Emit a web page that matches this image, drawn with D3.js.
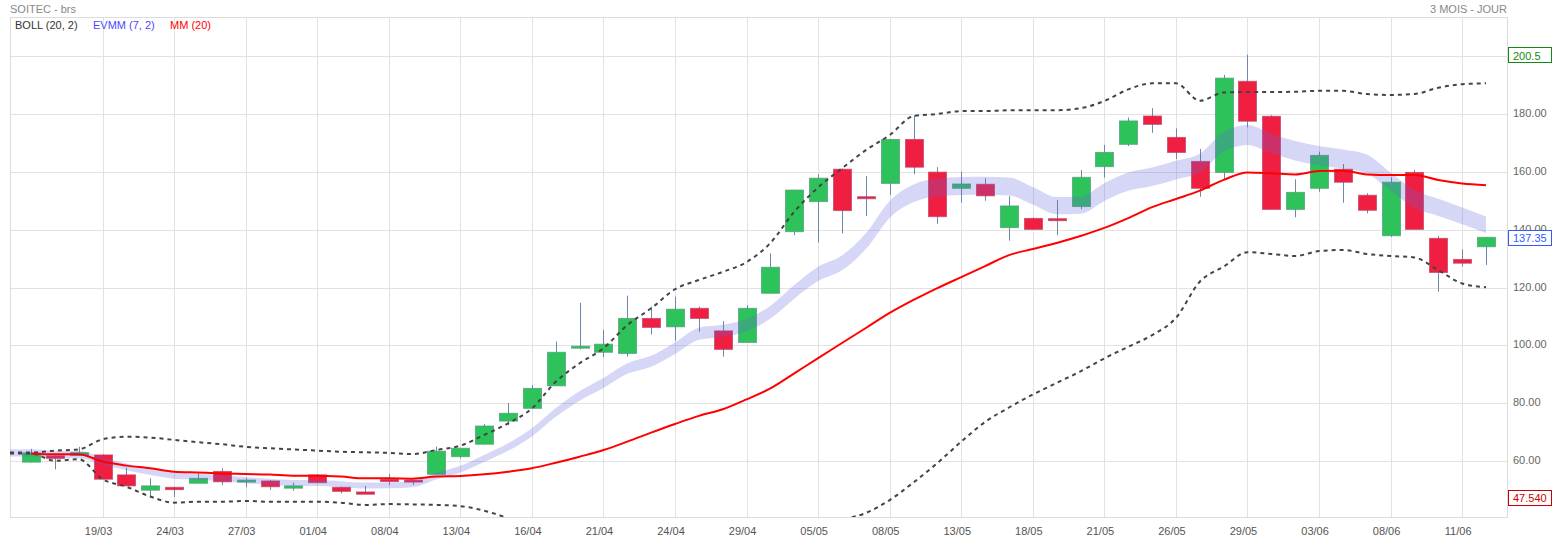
<!DOCTYPE html>
<html><head><meta charset="utf-8">
<script src="https://cdn.jsdelivr.net/npm/d3@7"></script>
<style>
body{margin:0;background:#fff;}
text{font-family:"Liberation Sans",Arial,sans-serif;font-size:11px;}
</style>
</head><body>
<svg id="c" width="1553" height="541"></svg>
<script>
// ---- data ----
const tickLabels = ["19/03","24/03","27/03","01/04","08/04","13/04","16/04","21/04","24/04","29/04",
  "05/05","08/05","13/05","18/05","21/05","26/05","29/05","03/06","08/06","11/06"];
const tickFirst = 3, tickEvery = 3;

const open = [59.6,61.8,61.9,62.1,55.2,49.9,50.9,52.3,56.4,52.9, 53.1,50.6,55.2,50.9,49.3,53.6,53.4,55.4,61.5,65.8,
  73.8,78.2,86.0,99.3,97.6,97.2,109.3,106.4,112.8,105.0, 101.0,118.0,139.3,149.7,160.9,151.4,156.0,171.2,159.9,154.3,
  155.7,140.7,143.9,143.8,148.0,161.8,169.5,179.3,171.9,163.6, 159.8,191.3,179.2,147.0,154.3,160.9,151.9,137.9,159.8,137.0,
  129.7,134.1];
const high = [64.2,61.9,64.9,62.3,57.7,54.0,51.0,56.1,57.5,54.0, 53.4,52.5,55.5,51.1,51.4,55.5,53.5,65.0,64.6,72.8,
  80.0,86.3,101.3,114.7,105.3,117.2,113.4,116.8,113.4,108.4, 113.9,131.8,153.7,159.2,161.2,158.5,171.2,179.6,161.6,160.0,
  157.8,151.6,144.2,150.2,160.6,169.3,178.8,182.0,175.0,167.9, 193.5,200.5,179.6,157.4,167.0,162.7,152.6,158.1,160.6,137.8,
  133.2,137.4];
const low = [59.5,57.1,61.9,53.7,51.4,47.8,47.54,52.3,51.7,50.9, 50.0,49.7,52.3,48.8,48.5,51.7,51.7,55.4,60.9,65.8,
  72.4,78.2,86.0,98.6,95.9,96.1,103.8,101.6,104.7,96.1, 101.0,118.0,138.1,135.5,138.7,144.7,152.0,159.2,142.0,149.3,
  150.0,136.2,140.0,138.1,147.1,158.0,168.9,173.5,164.4,151.4, 157.2,175.4,147.0,144.3,153.1,149.3,145.6,137.5,140.1,118.5,
  127.2,127.8];
const close = [62.8,60.9,62.9,53.7,51.4,51.4,50.1,54.0,52.8,53.4, 51.1,51.4,52.5,49.5,48.5,53.2,52.9,63.4,64.4,72.1,
  76.5,85.1,97.6,99.7,100.4,109.3,106.2,112.5,109.3,98.6, 112.8,127.0,153.7,157.8,146.6,150.7,171.2,161.6,144.5,155.8,
  151.7,148.2,140.1,143.3,158.1,166.7,177.6,176.4,166.7,154.3, 192.4,177.5,147.0,152.9,165.7,156.4,146.7,156.4,140.1,125.2,
  128.4,137.35];

const mm20 = [62.6,62.3,62.3,59.8,58.4,57.5,56.3,56.0,55.7,55.5, 55.3,54.9,54.9,54.6,54.0,54.0,53.9,54.6,54.8,55.4,
  56.3,57.5,59.4,61.5,63.8,66.7,69.8,72.8,75.6,77.9, 81.3,85.1,90.3,95.6,100.8,106.0,111.2,115.7,119.8,123.6,
  127.4,131.2,133.3,135.4,137.8,140.6,144.0,147.8,150.6,153.5, 157.2,159.8,159.5,159.1,160.3,160.4,159.1,158.9,158.9,157.2,
  156.0,155.4];
const bollUp = [62.9,63.6,64.0,67.5,68.4,68.1,67.3,66.5,65.8,64.9, 64.4,64.0,63.6,63.2,63.0,62.8,62.4,63.8,65.3,69.0,
  73.0,78.2,87.4,93.8,99.0,107.0,112.8,119.4,122.6,125.4, 128.8,135.4,146.2,154.6,161.2,167.5,172.7,179.3,180.0,181.0,
  181.0,181.3,181.3,181.3,182.0,184.5,188.5,190.6,190.6,184.6, 187.4,187.6,187.6,187.7,188.0,188.0,186.9,186.6,186.9,189.1,
  190.3,190.6];
const bollLow = [62.6,60.1,60.6,53.7,51.1,47.7,45.6,45.9,45.9,46.2, 45.9,45.9,45.9,45.6,44.8,45.1,45.0,44.8,44.4,42.8,
  40.2,36.8,31.4,29.2,28.6,26.4,26.8,26.2,28.6,30.4, 33.8,34.8,34.4,36.6,39.6,42.0,46.5,52.6,59.3,66.7,
  73.5,78.5,83.0,87.0,91.0,95.5,99.5,103.5,109.5,122.0, 127.2,132.2,131.6,130.9,132.6,133.0,131.6,130.9,130.4,126.0,
  121.4,120.1];
const evmm = [62.8,62.3,62.2,60.0,58.0,56.3,55.0,54.6,54.0,53.4, 52.8,52.4,52.4,52.0,51.5,51.6,52.0,54.8,57.2,60.9,
  64.8,69.9,76.8,82.5,87.0,92.0,94.5,99.0,104.0,105.0, 107.0,111.5,118.5,124.7,128.5,136.0,147.0,152.6,154.6,155.1,
  155.2,154.9,151.7,148.3,148.5,153.0,156.6,158.3,160.6,163.0, 170.4,172.7,169.8,167.3,165.6,164.4,162.7,156.6,150.6,147.7,
  144.8,141.7];
const evmmPct = 2;

const yTicks = [60,80,100,120,140,160,180,200];
const yTickLabels = [60,80,100,120,140,160,180];   // 200.00 is hidden behind the 200.5 box
const lastClose = 137.35, periodHigh = 200.5, periodLow = 47.54;
const title = "SOITEC - brs", period = "3 MOIS - JOUR";
const legend = [{t:"BOLL (20, 2)", c:"#333333"},{t:"EVMM (7, 2)", c:"#4a4aff"},{t:"MM (20)", c:"#ff0000"}];

// ---- layout ----
const X0 = 10, X1 = 1507, Y0 = 17, Y1 = 517;
const n = open.length;
const svg = d3.select("#c");
const x = d3.scaleLinear().domain([-0.88, n - 1 + 0.88]).range([X0, X1]);
const y = d3.scaleLinear().domain([60, 180]).range([461, 114]);

svg.append("defs").append("clipPath").attr("id","clip")
  .append("rect").attr("x",X0).attr("y",Y0).attr("width",X1-X0).attr("height",Y1-Y0);

// gridlines
const grid = svg.append("g");
grid.selectAll("line.h").data(yTicks).join("line")
  .attr("x1",X0).attr("x2",X1).attr("y1",d=>Math.round(y(d))+0.5).attr("y2",d=>Math.round(y(d))+0.5)
  .attr("stroke","#e2e2e2");
const tickIdx = tickLabels.map((_,k)=>tickFirst + k*tickEvery);
grid.selectAll("line.v").data(tickIdx).join("line")
  .attr("x1",d=>Math.round(x(d))+0.5).attr("x2",d=>Math.round(x(d))+0.5).attr("y1",Y0).attr("y2",Y1)
  .attr("stroke","#e2e2e2");
svg.append("rect").attr("x",X0+0.5).attr("y",Y0+0.5).attr("width",X1-X0).attr("height",Y1-Y0)
  .attr("fill","none").attr("stroke","#dcdcdc");

const plot = svg.append("g").attr("clip-path","url(#clip)");

// candles
const idx = d3.range(n);
const bw = 18;
plot.append("g").selectAll("line").data(idx).join("line")
  .attr("x1",i=>Math.round(x(i))+0.5).attr("x2",i=>Math.round(x(i))+0.5)
  .attr("y1",i=>y(high[i])).attr("y2",i=>y(low[i]))
  .attr("stroke","#6d88aa").attr("stroke-width",1);
plot.append("g").selectAll("rect").data(idx).join("rect")
  .attr("x",i=>Math.round(x(i))-bw/2+0.5)
  .attr("width",bw)
  .attr("y",i=>Math.min(y(open[i]),y(close[i])))
  .attr("height",i=>Math.max(2,Math.abs(y(open[i])-y(close[i]))))
  .attr("fill",i=>close[i]>=open[i]?"#2ec35a":"#f01f41")
  .attr("stroke",i=>close[i]>=open[i]?"#4d9a7a":"#b84466")
  .attr("stroke-opacity",0.7).attr("stroke-width",1);

// EVMM band
const withLead = arr => [{i:x.domain()[0], v:arr[0]}].concat(arr.map((v,i)=>({i,v})));
const band = d3.area().x(d=>x(d.i))
  .y0(d=>y(d.v*(1-evmmPct/100))).y1(d=>y(d.v*(1+evmmPct/100)))
  .curve(d3.curveMonotoneX);
plot.append("path").datum(withLead(evmm)).attr("d",band)
  .attr("fill","#6262dc").attr("fill-opacity",0.26);

// Bollinger
const ln = d3.line().x(d=>x(d.i)).y(d=>y(d.v)).curve(d3.curveMonotoneX);
[bollUp,bollLow].forEach(arr=>{
  plot.append("path").datum(withLead(arr)).attr("d",ln)
    .attr("fill","none").attr("stroke","#444").attr("stroke-width",2).attr("stroke-dasharray","4,4");
});
// MM 20
plot.append("path").datum(mm20.map((v,i)=>({i,v}))).attr("d",ln)
  .attr("fill","none").attr("stroke","#ff0000").attr("stroke-width",2);

// titles / legend
svg.append("text").attr("x",10).attr("y",13).attr("fill","#888").text(title);
svg.append("text").attr("x",1507).attr("y",13).attr("text-anchor","end").attr("fill","#888").text(period);
const lx = [15, 93, 170];
legend.forEach((l,k)=>svg.append("text").attr("x",lx[k]).attr("y",29).attr("fill",l.c).text(l.t));

// y tick labels
svg.append("g").selectAll("text").data(yTickLabels).join("text")
  .attr("x",1513).attr("y",d=>Math.round(y(d))+2.5).attr("fill","#666").text(d=>d3.format(".2f")(d));
// x tick labels
svg.append("g").selectAll("text").data(tickIdx).join("text")
  .attr("x",d=>x(d)-4).attr("y",535).attr("text-anchor","middle").attr("fill","#555")
  .text((d,k)=>tickLabels[k]);

// value boxes
const boxes = [{v:periodHigh, t:"200.5", c:"#138a13"},{v:lastClose, t:"137.35", c:"#2f5bff"},{v:periodLow, t:"47.540", c:"#cc0000"}];
boxes.forEach(b=>{
  const cy = y(b.v);
  svg.append("rect").attr("x",1508.5).attr("y",Math.round(cy-7.5)+0.5).attr("width",43).attr("height",15)
    .attr("fill","#fff").attr("stroke",b.c).attr("stroke-width",1);
  svg.append("text").attr("x",1513).attr("y",Math.round(cy)+4.5).attr("fill",b.c).text(b.t);
});
</script>
</body></html>
